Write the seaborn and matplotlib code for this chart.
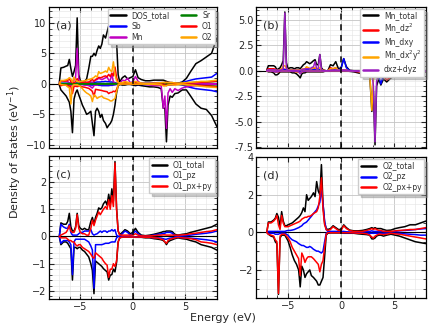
import numpy as np
import pandas as pd
import matplotlib
matplotlib.use("Agg")
import matplotlib.pyplot as plt
import seaborn as sns
from matplotlib.ticker import MultipleLocator

# energy grid (eV), shared by every curve
energy = [-7.0, -6.85, -6.6, -6.35, -6.2, -6.05, -5.9, -5.75, -5.6, -5.45, -5.3, -5.15, -5.0,
          -4.8, -4.6, -4.4, -4.2, -4.0, -3.85, -3.7, -3.55, -3.4, -3.25, -3.1, -2.95, -2.8,
          -2.6, -2.45, -2.3, -2.15, -2.0, -1.85, -1.7, -1.55, -1.4, -1.25, -1.0, -0.75, -0.5,
          -0.25, 0.0, 0.25, 0.5, 0.8, 1.2, 1.6, 2.0, 2.4, 2.7, 2.9, 3.05, 3.2,
          3.35, 3.55, 3.75, 4.0, 4.3, 4.7, 5.1, 5.5, 6.0, 6.5, 7.0, 7.5, 8.0]

# ---- (a) total / species ----
dos_up = [0.2, 2.6, 2.7, 2.9, 3.0, 4.0, 2.5, 1.2, 2.0, 3.0, 10.8, 1.5, 0.5,
          0.3, 0.4, 0.8, 2.5, 4.5, 4.5, 5.0, 4.6, 5.5, 6.2, 5.8, 6.5, 8.0,
          7.5, 8.5, 9.5, 7.0, 8.0, 9.0, 12.0, 7.0, 1.5, 0.3, 1.0, 1.3, 0.8,
          1.0, 1.2, 2.3, 1.0, 0.7, 0.5, 0.5, 0.6, 0.6, 0.6, 0.6, 0.5, 0.4,
          0.3, 0.2, 0.2, 0.1, 0.1, 0.3, 0.9, 2.0, 3.3, 3.8, 4.4, 5.0, 7.5]
dos_dn = [-0.2, -1.0, -1.5, -2.0, -2.5, -3.0, -4.5, -8.0, -2.5, -1.5, -1.0, -1.8, -2.5,
          -3.5, -4.2, -5.0, -4.8, -4.5, -6.5, -8.5, -4.5, -4.0, -4.5, -5.5, -5.0, -6.0,
          -6.5, -7.2, -6.8, -6.5, -6.0, -5.0, -3.5, -1.5, -0.3, -0.1, -0.2, -0.2, -0.1,
          -0.1, -0.2, -0.3, -0.2, -0.3, -0.4, -0.5, -0.5, -0.6, -0.8, -4.0, -4.0, -9.5,
          -3.5, -2.0, -2.2, -1.6, -1.5, -1.0, -1.0, -2.0, -3.3, -4.0, -4.2, -5.2, -7.0]
sb_up = [0.0, 0.1, 0.1, 0.1, 0.1, 0.15, 0.1, 0.1, 0.1, 0.1, 0.2, 0.1, 0.1,
         0.1, 0.1, 0.15, 0.2, 0.2, 0.2, 0.2, 0.25, 0.3, 0.3, 0.3, 0.35, 0.35,
         0.4, 0.35, 0.35, 0.3, 0.3, 0.25, 0.2, 0.1, 0.05, 0.05, 0.1, 0.15, 0.15,
         0.1, 0.15, 0.2, 0.15, 0.1, 0.1, 0.1, 0.15, 0.2, 0.2, 0.2, 0.2, 0.2,
         0.2, 0.15, 0.15, 0.1, 0.1, 0.2, 0.4, 0.6, 0.8, 0.9, 1.0, 1.1, 1.7]
sb_dn = [0.0, -0.1, -0.1, -0.1, -0.1, -0.1, -0.15, -0.1, -0.1, -0.1, -0.1, -0.1, -0.1,
         -0.1, -0.15, -0.2, -0.2, -0.2, -0.2, -0.25, -0.2, -0.2, -0.25, -0.25, -0.3, -0.3,
         -0.3, -0.3, -0.3, -0.25, -0.25, -0.2, -0.15, -0.1, -0.05, -0.05, -0.05, -0.05, -0.05,
         -0.05, -0.05, -0.1, -0.1, -0.1, -0.1, -0.1, -0.1, -0.15, -0.15, -0.15, -0.15, -0.15,
         -0.15, -0.15, -0.15, -0.1, -0.1, -0.2, -0.4, -0.6, -0.8, -0.9, -1.0, -1.1, -1.3]
sr_up = [0.0, 0.05, 0.05, 0.05, 0.05, 0.05, 0.05, 0.05, 0.05, 0.05, 0.1, 0.05, 0.05,
         0.05, 0.05, 0.05, 0.05, 0.05, 0.05, 0.05, 0.05, 0.05, 0.05, 0.05, 0.05, 0.05,
         0.05, 0.05, 0.05, 0.05, 0.05, 0.05, 0.05, 0.02, 0.02, 0.02, 0.02, 0.02, 0.02,
         0.02, 0.02, 0.02, 0.02, 0.02, 0.02, 0.02, 0.02, 0.02, 0.02, 0.02, 0.02, 0.02,
         0.02, 0.02, 0.02, 0.05, 0.05, 0.1, 0.15, 0.2, 0.25, 0.3, 0.3, 0.35, 0.4]
sr_dn = [0.0, -0.05, -0.05, -0.05, -0.05, -0.05, -0.05, -0.05, -0.05, -0.05, -0.1, -0.05, -0.05,
         -0.05, -0.05, -0.05, -0.05, -0.05, -0.05, -0.05, -0.05, -0.05, -0.05, -0.05, -0.05, -0.05,
         -0.05, -0.05, -0.05, -0.05, -0.05, -0.05, -0.05, -0.02, -0.02, -0.02, -0.02, -0.02, -0.02,
         -0.02, -0.02, -0.02, -0.02, -0.02, -0.02, -0.02, -0.02, -0.02, -0.02, -0.02, -0.02, -0.02,
         -0.02, -0.02, -0.02, -0.05, -0.05, -0.1, -0.15, -0.2, -0.25, -0.3, -0.3, -0.35, -0.4]

# ---- (b) Mn d orbitals ----
mn_up = [0.1, 0.5, 0.5, 0.5, 0.4, 0.1, 0.2, 0.3, 0.6, 1.0, 5.8, 0.8, 0.2,
         0.3, 0.3, 0.2, 0.3, 0.3, 0.2, 0.4, 0.6, 0.7, 0.9, 0.8, 0.7, 0.8,
         1.0, 1.1, 0.6, 0.6, 1.6, 0.3, 0.1, 0.05, 0.0, 0.0, 0.6, 0.5, 0.9,
         0.2, 0.3, 1.2, 0.4, 0.05, 0.02, 0.02, 0.02, 0.02, 0.02, 0.02, 0.02, 0.02,
         0.02, 0.02, 0.02, 0.02, 0.02, 0.02, 0.02, 0.02, 0.02, 0.02, 0.02, 0.02, 0.02]
mn_dn = [0.0, -0.1, -0.1, -0.2, -0.4, -0.4, -0.3, -0.1, -0.1, -0.1, -0.1, -0.1, -0.1,
         -0.1, -0.2, -0.2, -0.3, -0.5, -0.7, -0.3, -0.2, -0.2, -0.1, -0.1, -0.1, -0.1,
         -0.1, -0.1, -0.1, -0.1, -0.1, -0.1, -0.1, -0.05, -0.02, 0.0, 0.0, 0.0, 0.0,
         0.0, 0.0, -0.02, -0.02, -0.05, -0.1, -0.2, -0.3, -0.3, -0.3, -4.0, -2.0, -7.3,
         -1.5, -0.8, -1.4, -0.8, -1.1, -0.7, -0.5, -0.4, -0.3, -0.2, -0.15, -0.1, -0.1]
dz2_up = [0.05, 0.2, 0.2, 0.2, 0.15, 0.05, 0.05, 0.1, 0.2, 0.2, 0.1, 0.2, 0.05,
          0.1, 0.1, 0.05, 0.1, 0.1, 0.05, 0.1, 0.2, 0.2, 0.3, 0.3, 0.2, 0.2,
          0.3, 0.2, 0.1, 0.1, 0.1, 0.05, 0.02, 0.02, 0.0, 0.0, 0.3, 0.2, 0.3,
          0.05, 0.05, 0.1, 0.1, 0.02, 0.0, 0.0, 0.0, 0.0, 0.0, 0.0, 0.0, 0.0,
          0.0, 0.0, 0.0, 0.0, 0.0, 0.0, 0.0, 0.0, 0.0, 0.0, 0.0, 0.0, 0.0]
dz2_dn = [0.0, -0.05, -0.05, -0.05, -0.1, -0.1, -0.1, -0.05, -0.05, -0.05, -0.05, -0.05, -0.05,
          -0.05, -0.05, -0.05, -0.1, -0.1, -0.2, -0.1, -0.05, -0.05, -0.05, -0.05, -0.05, -0.05,
          -0.05, -0.05, -0.05, -0.05, -0.05, -0.05, -0.05, -0.02, 0.0, 0.0, 0.0, 0.0, 0.0,
          0.0, 0.0, 0.0, 0.0, -0.02, -0.05, -0.1, -0.15, -0.15, -0.1, -0.1, -0.3, -0.2,
          -0.3, -0.3, -0.2, -0.5, -0.9, -0.6, -0.4, -0.3, -0.2, -0.15, -0.1, -0.08, -0.05]
dxy_up = [0.02, 0.1, 0.1, 0.1, 0.1, 0.02, 0.05, 0.1, 0.1, 0.2, 0.1, 0.1, 0.05,
          0.05, 0.05, 0.05, 0.05, 0.05, 0.05, 0.05, 0.1, 0.1, 0.1, 0.1, 0.1, 0.1,
          0.1, 0.1, 0.1, 0.1, 0.1, 0.05, 0.02, 0.0, 0.0, 0.0, 0.1, 0.1, 0.2,
          0.1, 0.2, 1.2, 0.3, 0.02, 0.0, 0.0, 0.0, 0.0, 0.0, 0.0, 0.0, 0.0,
          0.0, 0.0, 0.0, 0.0, 0.0, 0.0, 0.0, 0.0, 0.0, 0.0, 0.0, 0.0, 0.0]
dxy_dn = [0.0, -0.02, -0.02, -0.05, -0.1, -0.1, -0.05, -0.02, -0.02, -0.02, -0.02, -0.02, -0.02,
          -0.02, -0.05, -0.05, -0.05, -0.1, -0.1, -0.05, -0.05, -0.05, -0.02, -0.02, -0.02, -0.02,
          -0.02, -0.02, -0.02, -0.02, -0.02, -0.02, -0.02, -0.02, 0.0, 0.0, 0.0, 0.0, 0.0,
          0.0, 0.0, 0.0, 0.0, -0.02, -0.05, -0.05, -0.05, -0.05, -0.05, -0.05, -0.1, -0.2,
          -0.3, -0.5, -1.3, -0.4, -0.2, -0.1, -0.05, -0.05, -0.05, -0.02, -0.02, -0.02, -0.02]
dx2y2_up = [0.02, 0.1, 0.1, 0.1, 0.1, 0.02, 0.05, 0.1, 0.2, 0.5, 0.5, 0.3, 0.05,
            0.1, 0.1, 0.05, 0.1, 0.1, 0.1, 0.1, 0.2, 0.2, 0.4, 0.3, 0.2, 0.2,
            0.3, 0.3, 0.2, 0.2, 0.3, 0.1, 0.05, 0.02, 0.0, 0.0, 0.2, 0.2, 0.3,
            0.05, 0.05, 0.1, 0.05, 0.0, 0.0, 0.0, 0.0, 0.0, 0.0, 0.0, 0.0, 0.0,
            0.0, 0.0, 0.0, 0.0, 0.0, 0.0, 0.0, 0.0, 0.0, 0.0, 0.0, 0.0, 0.0]
dx2y2_dn = [0.0, -0.02, -0.02, -0.05, -0.1, -0.1, -0.05, -0.02, -0.02, -0.02, -0.02, -0.02, -0.02,
            -0.02, -0.05, -0.05, -0.1, -0.15, -0.2, -0.1, -0.05, -0.05, -0.02, -0.02, -0.02, -0.02,
            -0.02, -0.02, -0.02, -0.02, -0.02, -0.02, -0.02, -0.02, 0.0, 0.0, 0.0, 0.0, 0.0,
            0.0, 0.0, 0.0, 0.0, 0.0, -0.02, -0.05, -0.1, -0.1, -0.2, -3.9, -0.8, -0.2,
            -0.2, -0.1, -0.1, -0.1, -0.05, -0.05, -0.05, -0.02, -0.02, -0.02, -0.02, -0.02, -0.02]
dxz_up = [0.02, 0.1, 0.1, 0.1, 0.1, 0.02, 0.05, 0.05, 0.1, 0.2, 5.7, 0.3, 0.05,
          0.05, 0.05, 0.05, 0.05, 0.05, 0.05, 0.1, 0.15, 0.2, 0.2, 0.2, 0.2, 0.3,
          0.4, 0.9, 0.2, 0.2, 1.6, 0.1, 0.02, 0.0, 0.0, 0.0, 0.05, 0.05, 0.1,
          0.05, 0.05, 0.1, 0.05, 0.0, 0.0, 0.0, 0.0, 0.0, 0.0, 0.0, 0.0, 0.0,
          0.0, 0.0, 0.0, 0.0, 0.0, 0.0, 0.0, 0.0, 0.0, 0.0, 0.0, 0.0, 0.0]
dxz_dn = [0.0, -0.02, -0.02, -0.05, -0.1, -0.1, -0.05, -0.02, -0.02, -0.02, -0.02, -0.02, -0.02,
          -0.02, -0.05, -0.05, -0.05, -0.1, -0.3, -0.1, -0.05, -0.05, -0.02, -0.02, -0.02, -0.02,
          -0.02, -0.02, -0.02, -0.02, -0.02, -0.02, -0.02, -0.02, 0.0, 0.0, 0.0, 0.0, 0.0,
          0.0, 0.0, 0.0, 0.0, 0.0, -0.02, -0.05, -0.05, -0.05, -0.05, -0.1, -1.5, -7.0,
          -1.0, -0.3, -0.2, -0.2, -0.2, -0.2, -0.1, -0.1, -0.05, -0.05, -0.05, -0.05, -0.05]

# ---- (c) O1 p orbitals ----
o1_up = [0.0, 0.5, 0.45, 0.45, 0.55, 0.85, 0.35, 0.2, 0.2, 0.35, 0.85, 0.4, 0.3,
         0.25, 0.3, 0.25, 0.25, 0.55, 0.7, 0.45, 0.7, 0.85, 1.05, 1.0, 1.05, 1.2,
         1.3, 1.15, 1.55, 1.2, 1.75, 1.3, 2.75, 1.05, 0.2, 0.07, 0.15, 0.25, 0.2,
         0.1, 0.15, 0.3, 0.15, 0.05, 0.03, 0.05, 0.08, 0.12, 0.15, 0.18, 0.18, 0.2,
         0.2, 0.2, 0.18, 0.08, 0.05, 0.08, 0.1, 0.15, 0.2, 0.25, 0.3, 0.35, 0.45]
o1_dn = [0.0, -0.3, -0.2, -0.2, -0.25, -0.35, -0.45, -1.6, -0.4, -0.4, -0.45, -0.4, -0.4,
         -0.5, -0.55, -0.65, -0.75, -1.0, -1.25, -2.1, -0.9, -0.95, -1.0, -1.05, -1.1, -1.18,
         -1.25, -1.3, -1.6, -1.42, -1.4, -1.2, -1.3, -0.95, -0.2, -0.05, -0.02, -0.02, -0.02,
         -0.02, -0.02, -0.03, -0.03, -0.03, -0.05, -0.05, -0.08, -0.1, -0.12, -0.15, -0.2, -0.3,
         -0.2, -0.15, -0.12, -0.08, -0.05, -0.08, -0.1, -0.15, -0.2, -0.3, -0.35, -0.4, -0.5]
o1_pz_up = [0.0, 0.45, 0.35, 0.3, 0.3, 0.45, 0.15, 0.05, 0.05, 0.05, 0.05, 0.1, 0.15,
            0.15, 0.2, 0.2, 0.2, 0.25, 0.1, 0.05, 0.08, 0.1, 0.15, 0.2, 0.15, 0.2,
            0.2, 0.15, 0.2, 0.2, 0.25, 0.2, 0.25, 0.05, 0.0, 0.02, 0.1, 0.2, 0.15,
            0.05, 0.1, 0.2, 0.1, 0.02, 0.0, 0.02, 0.05, 0.08, 0.1, 0.12, 0.12, 0.15,
            0.15, 0.15, 0.12, 0.02, 0.0, 0.02, 0.03, 0.05, 0.08, 0.1, 0.12, 0.15, 0.2]
o1_pz_dn = [0.0, -0.25, -0.15, -0.15, -0.15, -0.2, -0.3, -1.4, -0.2, -0.1, -0.1, -0.1, -0.1,
            -0.1, -0.1, -0.15, -0.2, -0.35, -0.5, -1.9, -0.3, -0.3, -0.3, -0.3, -0.3, -0.28,
            -0.25, -0.25, -0.25, -0.22, -0.2, -0.2, -0.2, -0.05, 0.0, 0.0, 0.0, 0.0, 0.0,
            0.0, 0.0, -0.02, -0.02, -0.02, -0.02, -0.03, -0.05, -0.05, -0.06, -0.08, -0.1, -0.1,
            -0.08, -0.06, -0.05, -0.04, -0.03, -0.04, -0.05, -0.06, -0.08, -0.1, -0.12, -0.15, -0.2]
o1_pxy_up = [0.0, 0.05, 0.1, 0.15, 0.25, 0.4, 0.2, 0.15, 0.15, 0.3, 0.8, 0.3, 0.15,
             0.1, 0.1, 0.05, 0.05, 0.3, 0.6, 0.4, 0.6, 0.75, 0.9, 0.8, 0.9, 1.0,
             1.1, 1.0, 1.35, 1.0, 1.5, 1.1, 2.7, 1.0, 0.2, 0.05, 0.05, 0.05, 0.05,
             0.05, 0.05, 0.1, 0.05, 0.02, 0.02, 0.02, 0.03, 0.05, 0.05, 0.06, 0.06, 0.05,
             0.05, 0.05, 0.05, 0.05, 0.05, 0.06, 0.07, 0.1, 0.12, 0.15, 0.18, 0.2, 0.25]
o1_pxy_dn = [0.0, -0.05, -0.05, -0.05, -0.1, -0.15, -0.15, -0.2, -0.2, -0.3, -0.35, -0.3, -0.3,
             -0.4, -0.45, -0.5, -0.55, -0.65, -0.75, -0.8, -0.6, -0.65, -0.7, -0.75, -0.8, -0.9,
             -1.0, -1.05, -1.5, -1.2, -1.2, -1.0, -1.1, -0.9, -0.2, -0.05, -0.02, -0.02, -0.02,
             -0.02, -0.02, -0.02, -0.02, -0.02, -0.03, -0.03, -0.05, -0.06, -0.1, -0.12, -0.2, -0.25,
             -0.15, -0.1, -0.08, -0.05, -0.03, -0.05, -0.06, -0.08, -0.12, -0.2, -0.22, -0.25, -0.3]

# ---- (d) O2 p orbitals ----
o2_up = [0.0, 0.55, 0.55, 0.65, 0.75, 1.0, 0.8, 0.3, 1.1, 0.6, 0.35, 0.35, 0.4,
         0.45, 0.5, 0.6, 0.7, 0.8, 0.9, 1.05, 1.3, 1.1, 2.0, 1.7, 1.8, 1.9,
         2.1, 1.9, 2.7, 2.2, 2.0, 3.6, 1.5, 0.5, 0.2, 0.15, 0.2, 0.35, 0.25,
         0.15, 0.15, 0.4, 0.25, 0.12, 0.08, 0.08, 0.1, 0.15, 0.2, 0.25, 0.2, 0.25,
         0.2, 0.2, 0.2, 0.15, 0.1, 0.12, 0.2, 0.25, 0.3, 0.4, 0.4, 0.5, 0.6]
o2_dn = [0.0, -0.1, -0.2, -0.25, -0.5, -0.6, -3.3, -0.3, -0.15, -0.15, -0.15, -0.3, -0.45,
         -0.8, -1.2, -1.5, -1.7, -2.0, -2.9, -1.8, -2.0, -2.4, -2.2, -2.1, -2.0, -2.3,
         -2.4, -2.5, -2.6, -2.8, -2.8, -2.6, -2.4, -1.3, -0.15, -0.05, -0.03, -0.03, -0.03,
         -0.03, -0.03, -0.05, -0.05, -0.05, -0.05, -0.08, -0.1, -0.12, -0.15, -0.35, -0.35, -0.3,
         -0.2, -0.15, -0.15, -0.2, -0.15, -0.1, -0.15, -0.2, -0.3, -0.4, -0.5, -0.55, -0.6]
o2_pz_up = [0.0, 0.05, 0.05, 0.05, 0.05, 0.05, 0.05, 0.05, 0.05, 0.05, 0.05, 0.08, 0.1,
            0.1, 0.12, 0.15, 0.2, 0.25, 0.3, 0.35, 0.45, 0.5, 0.55, 0.65, 0.75, 0.85,
            1.0, 1.1, 1.2, 1.4, 1.6, 2.3, 1.5, 0.6, 0.15, 0.05, 0.05, 0.05, 0.05,
            0.05, 0.05, 0.05, 0.03, 0.02, 0.02, 0.02, 0.03, 0.05, 0.05, 0.08, 0.05, 0.05,
            0.05, 0.05, 0.05, 0.05, 0.03, 0.03, 0.05, 0.08, 0.1, 0.12, 0.15, 0.18, 0.2]
o2_pz_dn = [0.0, -0.05, -0.05, -0.05, -0.1, -0.1, -0.1, -0.05, -0.05, -0.05, -0.05, -0.1, -0.15,
            -0.3, -0.4, -0.45, -0.5, -0.6, -0.65, -0.7, -0.7, -0.75, -0.8, -0.8, -0.75, -0.8,
            -0.9, -0.95, -1.0, -1.0, -1.05, -1.1, -1.0, -0.5, -0.05, 0.0, 0.0, 0.0, 0.0,
            0.0, 0.0, -0.02, -0.02, -0.02, -0.02, -0.02, -0.03, -0.05, -0.05, -0.05, -0.05, -0.05,
            -0.05, -0.05, -0.05, -0.05, -0.05, -0.05, -0.05, -0.05, -0.08, -0.1, -0.12, -0.15, -0.15]
o2_pxy_up = [0.0, 0.5, 0.5, 0.6, 0.7, 0.9, 0.4, 0.15, 0.9, 0.5, 0.3, 0.3, 0.3,
             0.35, 0.4, 0.45, 0.5, 0.55, 0.6, 0.7, 0.75, 0.8, 0.8, 0.85, 0.85, 0.9,
             1.0, 1.05, 1.1, 1.3, 1.9, 2.9, 1.2, 0.4, 0.15, 0.1, 0.15, 0.3, 0.2,
             0.1, 0.1, 0.35, 0.2, 0.1, 0.05, 0.05, 0.05, 0.1, 0.15, 0.2, 0.15, 0.2,
             0.15, 0.1, 0.1, 0.05, 0.05, 0.05, 0.08, 0.1, 0.12, 0.15, 0.15, 0.2, 0.25]
o2_pxy_dn = [0.0, -0.1, -0.15, -0.2, -0.4, -0.5, -3.25, -0.2, -0.1, -0.1, -0.1, -0.2, -0.3,
             -0.5, -0.8, -1.0, -1.2, -1.4, -2.3, -1.1, -1.3, -1.6, -1.4, -1.3, -1.3, -1.3,
             -1.4, -1.5, -1.6, -1.7, -2.1, -1.7, -1.5, -0.8, -0.1, -0.02, -0.02, -0.02, -0.02,
             -0.02, -0.02, -0.02, -0.02, -0.02, -0.03, -0.05, -0.05, -0.08, -0.15, -0.25, -0.3, -0.2,
             -0.15, -0.1, -0.1, -0.12, -0.1, -0.05, -0.08, -0.1, -0.15, -0.2, -0.25, -0.3, -0.35]

panels = [
    ("(a)", [("DOS_total", dos_up, dos_dn, "black"),
             ("Sb", sb_up, sb_dn, "blue"),
             ("Mn", mn_up, mn_dn, "#c000c0"),
             ("Sr", sr_up, sr_dn, "green"),
             ("O1", o1_up, o1_dn, "red"),
             ("O2", o2_up, o2_dn, "orange")],
     (-10.5, 12.6), 5, 1),
    ("(b)", [("Mn_total", mn_up, mn_dn, "black"),
             ("Mn_dz$^2$", dz2_up, dz2_dn, "red"),
             ("Mn_dxy", dxy_up, dxy_dn, "blue"),
             ("Mn_dx$^2$y$^2$", dx2y2_up, dx2y2_dn, "orange"),
             ("dxz+dyz", dxz_up, dxz_dn, "#9a1fc0")],
     (-7.6, 6.3), 2.5, 0.5),
    ("(c)", [("O1_total", o1_up, o1_dn, "black"),
             ("O1_pz", o1_pz_up, o1_pz_dn, "blue"),
             ("O1_px+py", o1_pxy_up, o1_pxy_dn, "red")],
     (-2.3, 2.95), 1, 0.2),
    ("(d)", [("O2_total", o2_up, o2_dn, "black"),
             ("O2_pz", o2_pz_up, o2_pz_dn, "blue"),
             ("O2_px+py", o2_pxy_up, o2_pxy_dn, "red")],
     (-3.5, 4.0), 2, 0.5),
]

sns.set_theme(style="ticks")
plt.rcParams['font.family'] = ['DejaVu Sans']

fig = plt.figure(figsize=(4.32, 3.28), dpi=100)
positions = [[0.113, 0.549, 0.389, 0.430],
             [0.593, 0.549, 0.393, 0.430],
             [0.113, 0.088, 0.389, 0.436],
             [0.593, 0.091, 0.393, 0.430]]

for i, (tag, series, ylim, major, minor) in enumerate(panels):
    ax = fig.add_axes(positions[i])
    ax.set_axisbelow(True)
    ax.grid(which="major", color="#c4c4c4", lw=0.6)
    ax.grid(which="minor", color="#e4e4e4", lw=0.4)
    ax.axhline(0, color="black", lw=0.8)
    for name, up, dn, col in series:
        sns.lineplot(x=energy, y=up, color=col, lw=1.1, ax=ax, label=name,
                     estimator=None, sort=False)
        sns.lineplot(x=energy, y=dn, color=col, lw=1.1, ax=ax, label="_" + name,
                     estimator=None, sort=False)
    ax.axvline(0, color="black", lw=1.1, ls=(0, (4, 3)))
    ax.set_xlim(-8, 8)
    ax.set_ylim(*ylim)
    ax.xaxis.set_major_locator(MultipleLocator(5))
    ax.xaxis.set_minor_locator(MultipleLocator(1))
    ax.yaxis.set_major_locator(MultipleLocator(major))
    ax.yaxis.set_minor_locator(MultipleLocator(minor))
    ax.tick_params(which="both", direction="in", top=True, right=True, labelsize=7, pad=2)
    ax.tick_params(which="major", length=3.5, width=0.8)
    ax.tick_params(which="minor", length=2, width=0.6)
    for sp in ax.spines.values():
        sp.set_linewidth(0.9)
        sp.set_color("black")
    if i < 2:
        ax.tick_params(labelbottom=False)
    if i == 1:
        ax.yaxis.set_major_formatter(matplotlib.ticker.FormatStrFormatter("%.1f"))
    ax.set_xlabel("")
    ax.set_ylabel("")
    ax.text(0.04, 0.87, tag, transform=ax.transAxes, fontsize=8, va="center")
    leg = ax.legend(loc="upper right", ncol=2 if i == 0 else 1, fontsize=5.5,
                    frameon=True, fancybox=False,
                    shadow={"color": "0.55", "alpha": 0.45, "ox": 2, "oy": -2},
                    framealpha=1, edgecolor="0.8", handlelength=2.0, borderpad=0.3,
                    labelspacing=0.25, handletextpad=0.8, borderaxespad=0.25,
                    columnspacing=1.4, labelcolor="0.2")
    for line in leg.get_lines():
        line.set_linewidth(1.8)

fig.text(0.035, 0.535, "Density of states (eV$^{-1}$)", rotation=90,
         ha="center", va="center", fontsize=8)
fig.text(0.515, 0.03, "Energy (eV)", ha="center", va="center", fontsize=8)

fig.savefig("out.png", dpi=100)
